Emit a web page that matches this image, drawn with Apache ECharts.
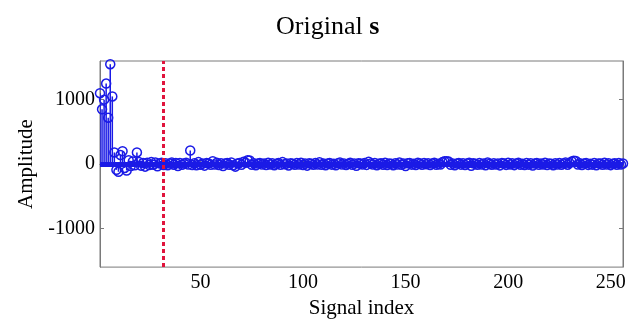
<!DOCTYPE html>
<html>
<head>
<meta charset="utf-8">
<script src="https://cdn.jsdelivr.net/npm/echarts@6/dist/echarts.min.js"></script>
<style>
  html, body { margin: 0; padding: 0; background: #fff; }
  #chart { width: 630px; height: 324px; }
</style>
</head>
<body>
<div id="chart"></div>
<script>
// Signal amplitudes, index 1..256
const amplitudes = [
  1100, 850, 1000, 1250, 720, 1550, 1050, 180, -90, -120, 140, 200, -60, -100, 60, -30,
  40, -20, 180, 30, -25, 15, -40, 20, -15, 30, -10, 25, -35, 10, 20, -15,
  12, -20, 8, 25, -10, 15, -30, 18, -12, 10, 22, -8, 210, -15, 12, -20,
  30, -10, 8, -25, 15, 10, -12, 45, -8, 20, -15, 12, -30, 8, 18, -10,
  25, -18, -40, 10, 15, -12, 35, 20, 60, 55, -10, 12, -20, 8, 15, -8,
  10, -15, 22, -6, 12, -20, 5, 18, -10, 30, -5, 8, -22, 14, 6, -12,
  16, -8, 20, -14, 9, -25, 12, 4, -10, 18, -6, 28, -12, 7, -18, 10,
  15, -9, 6, -20, 12, 24, -7, 10, -16, 5, 20, -11, 8, -28, 14, 9,
  -6, 18, -13, 35, 10, -8, 16, -20, 6, 12, -10, 22, -15, 8, 4, -18,
  14, -7, 25, -12, 9, -30, 11, 18, -9, 6, -14, 20, 7, -10, 15, -5,
  12, -16, 8, 21, -11, 6, -8, 30, 42, 45, 38, -12, 10, -20, 7, 16,
  -9, 13, -15, 8, 20, -26, 11, 5, -12, 17, -7, 10, -18, 24, 6, -10,
  14, -8, 9, -21, 16, 7, -13, 19, -6, 11, -17, 8, 22, -10, 5, -14,
  18, -9, 12, -24, 7, 15, -11, 9, -6, 20, -15, 10, 6, -19, 13, -8,
  16, -12, 8, 25, -10, 14, 40, 52, 48, -7, 11, -16, 9, 18, -13, 6,
  -9, 15, -20, 10, 7, -12, 19, -8, 13, -17, 6, 11, -10, 16, -7, 9
];
const xTicks = [50, 100, 150, 200, 250];
const yTicks = [-1000, 0, 1000];
const cutoffIndex = 32;

const points = amplitudes.map((v, i) => [i + 1, v]);

const serif = 'Liberation Serif, Times New Roman, serif';
const axisGray = '#7a7a7a';
const stemBlue = '#1a1ae6';

const chart = echarts.init(document.getElementById('chart'), null, { renderer: 'canvas' });

const baseX = {
  type: 'value', min: 1, max: 256,
  splitLine: { show: false },
  axisLine: { show: true, lineStyle: { color: axisGray, width: 1 } },
  axisTick: { show: true, inside: true, length: 4, customValues: xTicks, lineStyle: { color: axisGray } }
};
const baseY = {
  type: 'value', min: -1600, max: 1600,
  splitLine: { show: false },
  axisLine: { show: true, lineStyle: { color: axisGray, width: 1 } },
  axisTick: { show: true, inside: true, length: 4, customValues: yTicks, lineStyle: { color: axisGray } }
};

chart.setOption({
  animation: false,
  backgroundColor: '#fff',
  title: {
    text: '{n|Original }{b|s}',
    left: 271, top: 9,
    textStyle: {
      fontWeight: 'normal',
      rich: {
        n: { fontFamily: serif, fontSize: 26, fontWeight: 'normal', color: '#000' },
        b: { fontFamily: serif, fontSize: 26, fontWeight: 'bold', color: '#000' }
      }
    }
  },
  grid: { left: 100, right: 7, top: 61, bottom: 54, show: true, borderColor: axisGray, borderWidth: 1 },
  xAxis: [
    Object.assign({}, baseX, {
      position: 'bottom',
      name: 'Signal index', nameLocation: 'middle', nameGap: 15,
      nameTextStyle: { fontFamily: serif, fontSize: 21, color: '#000' },
      axisLabel: { customValues: xTicks, fontFamily: serif, fontSize: 20, color: '#000', margin: 6 }
    }),
    Object.assign({}, baseX, { position: 'top', axisLabel: { show: false } })
  ],
  yAxis: [
    Object.assign({}, baseY, {
      position: 'left',
      name: 'Amplitude', nameLocation: 'middle', nameGap: 60,
      nameTextStyle: { fontFamily: serif, fontSize: 21, color: '#000' },
      axisLabel: {
        customValues: yTicks, fontFamily: serif, fontSize: 20, color: '#000', margin: 5,
        formatter: function (v) { return String(v); }
      }
    }),
    Object.assign({}, baseY, { position: 'right', axisLabel: { show: false } })
  ],
  series: [
    {
      // stems from zero to each value
      type: 'custom',
      xAxisIndex: 0, yAxisIndex: 0,
      clip: true,
      data: points,
      renderItem: function (params, api) {
        const x = api.value(0), y = api.value(1);
        const p0 = api.coord([x, 0]);
        const p1 = api.coord([x, y]);
        return {
          type: 'line',
          shape: { x1: p0[0], y1: p0[1], x2: p1[0], y2: p1[1] },
          style: { stroke: stemBlue, lineWidth: 1.5 }
        };
      },
      // stem baseline at zero
      markLine: {
        silent: true,
        symbol: ['none', 'none'],
        label: { show: false },
        lineStyle: { color: stemBlue, width: 5, type: 'solid' },
        data: [{ yAxis: 0 }]
      },
      z: 2
    },
    {
      // open circle markers
      type: 'scatter',
      xAxisIndex: 0, yAxisIndex: 0,
      data: points,
      symbol: 'circle',
      symbolSize: 9,
      itemStyle: { color: 'rgba(0,0,0,0)', borderColor: stemBlue, borderWidth: 1.5, opacity: 1 },
      z: 3,
      markLine: {
        silent: true,
        symbol: ['none', 'none'],
        label: { show: false },
        lineStyle: { color: '#e0143c', width: 3, type: [4, 3] },
        data: [{ xAxis: cutoffIndex }]
      }
    }
  ]
});
</script>
</body>
</html>
